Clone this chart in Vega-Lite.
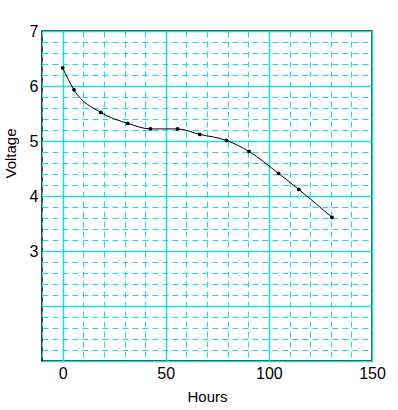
{
  "$schema": "https://vega.github.io/schema/vega-lite/v6.json",
  "width": 330,
  "height": 330,
  "autosize": {"type": "none"},
  "padding": {"left": 42, "top": 31, "right": 26, "bottom": 49},
  "background": "white",
  "config": {
    "font": "Liberation Sans",
    "view": {"stroke": "black", "strokeWidth": 1.5}
  },
  "data": {
    "values": [
      {"Hours": 0, "Voltage": 6.33},
      {"Hours": 5.5, "Voltage": 5.93},
      {"Hours": 18.5, "Voltage": 5.52},
      {"Hours": 31.6, "Voltage": 5.32},
      {"Hours": 42.6, "Voltage": 5.22},
      {"Hours": 55.7, "Voltage": 5.22},
      {"Hours": 66.5, "Voltage": 5.12},
      {"Hours": 79.5, "Voltage": 5.01},
      {"Hours": 90.4, "Voltage": 4.81},
      {"Hours": 104.7, "Voltage": 4.41},
      {"Hours": 114.5, "Voltage": 4.12},
      {"Hours": 130.6, "Voltage": 3.61}
    ]
  },
  "encoding": {
    "x": {
      "field": "Hours",
      "type": "quantitative",
      "scale": {"domain": [-10, 150], "nice": false, "zero": false},
      "axis": {
        "values": [-10, 0, 10, 20, 30, 40, 50, 60, 70, 80, 90, 100, 110, 120, 130, 140, 150],
        "labelExpr": "datum.value % 50 === 0 ? datum.label : ''",
        "labelFontSize": 16,
        "labelColor": "black",
        "labelPadding": 4,
        "ticks": false,
        "domain": false,
        "grid": true,
        "gridColor": "#1fdcdc",
        "gridWidth": {"condition": {"test": "datum.value % 50 === 0", "value": 1.5}, "value": 1},
        "gridDash": {"condition": {"test": "datum.value % 50 === 0", "value": []}, "value": [6, 4]},
        "gridOpacity": 1,
        "title": "Hours",
        "titleFontSize": 15,
        "titleFontWeight": "normal",
        "titleColor": "black",
        "titlePadding": 8,
        "labelFlush": false,
        "labelOverlap": false
      }
    },
    "y": {
      "field": "Voltage",
      "type": "quantitative",
      "scale": {"domain": [1, 7], "nice": false, "zero": false},
      "axis": {
        "values": [1, 1.2, 1.4, 1.6, 1.8, 2, 2.2, 2.4, 2.6, 2.8, 3, 3.2, 3.4, 3.6, 3.8, 4, 4.2, 4.4, 4.6, 4.8, 5, 5.2, 5.4, 5.6, 5.8, 6, 6.2, 6.4, 6.6, 6.8, 7],
        "labelExpr": "datum.value >= 2.99 && abs(datum.value - round(datum.value)) < 0.01 ? '' + round(datum.value) : ''",
        "labelFontSize": 16,
        "labelColor": "black",
        "labelPadding": 4,
        "ticks": false,
        "domain": false,
        "grid": true,
        "gridColor": "#1fdcdc",
        "gridWidth": {"condition": {"test": "abs(datum.value - round(datum.value)) < 0.01", "value": 1.5}, "value": 1},
        "gridDash": {"condition": {"test": "abs(datum.value - round(datum.value)) < 0.01", "value": []}, "value": [6, 4]},
        "gridOpacity": 1,
        "title": "Voltage",
        "titleFontSize": 15,
        "titleFontWeight": "normal",
        "titleColor": "black",
        "titleX": -32,
        "titleY": 122,
        "titleAngle": -90,
        "titleAlign": "center",
        "titleBaseline": "middle",
        "labelFlush": false,
        "labelOverlap": false
      }
    }
  },
  "layer": [
    {"mark": {"type": "line", "color": "black", "strokeWidth": 1, "interpolate": "monotone"}},
    {"mark": {"type": "point", "filled": true, "color": "black", "size": 14, "opacity": 1}}
  ]
}
